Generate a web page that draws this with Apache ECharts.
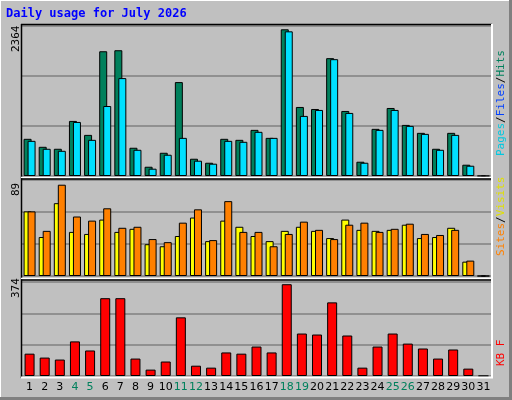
<!DOCTYPE html><html><head><meta charset="utf-8">
<script src="https://cdn.jsdelivr.net/npm/echarts@6/dist/echarts.min.js"></script>
<style>html,body{margin:0;padding:0;background:#c0c0c0}#c{width:512px;height:400px}</style></head><body><div id="c"></div>
<script>
const days = Array.from({length:31},(_,i)=>String(i+1));
const weekend = ['4','5','11','12','18','19','25','26'];
const hits  = [586,460,429,868,648,1966,1982,445,146,366,1480,272,209,586,570,727,601,2312,1088,1056,1857,1025,225,743,1072,805,680,429,680,178,0];
const pages = [554,429,397,852,570,1103,1543,413,115,335,601,241,194,554,539,696,601,2280,947,1041,1841,994,209,727,1041,790,664,413,648,162,0];
const sites = [63,38,71,43,41,55,43,46,31,29,39,57,34,54,48,39,34,44,48,44,37,55,45,44,45,50,37,38,47,14,0];
const visits= [63,44,89,58,54,66,47,48,36,33,52,65,35,73,43,43,29,41,53,45,36,50,52,43,46,51,41,40,45,15,0];
const kbytes= [91,75,67,141,104,317,317,71,26,59,239,42,34,96,91,120,96,374,173,169,300,165,34,120,173,132,112,71,108,30,0];
const maxLabels = ['2364','89','374'];

const chart = echarts.init(document.getElementById('c'),null,{renderer:'canvas'});
const L=22, R=21;
const grids=[{left:L,right:R,top:26,height:150},{left:L,right:R,top:180,height:96},{left:L,right:R,top:282,height:94}];
const maxes=[2364,93.6,383];
const xAxes=grids.map((g,i)=>({type:'category',gridIndex:i,data:days,axisLine:{show:false},axisTick:{show:false},
  axisLabel:{show:i===2,interval:0,margin:6,fontFamily:'DejaVu Sans',fontSize:11,
    formatter:v=>weekend.includes(v)?'{w|'+v+'}':v,color:'#000',rich:{w:{color:'#00805c',fontFamily:'DejaVu Sans',fontSize:11}}}}));
const yAxes=grids.map((g,i)=>({type:'value',gridIndex:i,min:0,max:maxes[i],interval:maxes[i]/3,axisLabel:{show:false},
  axisLine:{show:false},axisTick:{show:false},splitLine:{show:true,lineStyle:{color:'#808080',width:1.5}}}));
const bs={borderColor:'#000',borderWidth:1};
const series=[
 {type:'bar',xAxisIndex:0,yAxisIndex:0,data:hits,barWidth:8,barGap:'-50%',itemStyle:{color:'#00805c',...bs}},
 {type:'bar',xAxisIndex:0,yAxisIndex:0,data:pages,barWidth:8,itemStyle:{color:'#00e0ff',...bs}},
 {type:'bar',xAxisIndex:1,yAxisIndex:1,data:sites,barWidth:8,barGap:'-50%',itemStyle:{color:'#ffff00',...bs}},
 {type:'bar',xAxisIndex:1,yAxisIndex:1,data:visits,barWidth:8,itemStyle:{color:'#ff8000',...bs}},
 {type:'bar',xAxisIndex:2,yAxisIndex:2,data:kbytes,barWidth:10,itemStyle:{color:'#ff0000',...bs}}
];
const line=(x1,y1,x2,y2,c,w)=>({type:'line',shape:{x1,y1,x2,y2},style:{stroke:c,lineWidth:w||1},z:100});
const mono='DejaVu Sans Mono';
const graphic=[
 line(0,0.5,511,0.5,'#fff',1),line(0.5,0,0.5,399,'#fff',1),
 line(0,398.5,512,398.5,'#808080',3),line(510.5,0,510.5,400,'#808080',3),
 {type:'text',x:6,y:8,style:{text:'Daily usage for July 2026',fill:'#0000ff',font:'bold 12px '+mono},z:100},
 // panel frames
 line(21,24.5,492,24.5,'#000',1.5),line(21.5,24,21.5,378,'#000',1.5),
 line(21,177.5,492,177.5,'#fff',1.5),line(21,179,492,179,'#000',1.5),
 line(21,278.5,492,278.5,'#fff',1.5),line(21,280,492,280,'#000',1.5),
 line(21,377.5,493,377.5,'#fff',2),line(492,24,492,378,'#fff',2),
 {type:'text',x:11,y:52,rotation:Math.PI/2,style:{text:maxLabels[0],fill:'#000',font:'11px '+mono},z:100},
 {type:'text',x:11,y:196,rotation:Math.PI/2,style:{text:maxLabels[1],fill:'#000',font:'11px '+mono},z:100},
 {type:'text',x:11,y:298,rotation:Math.PI/2,style:{text:maxLabels[2],fill:'#000',font:'11px '+mono},z:100},
 {type:'text',x:496,y:156,rotation:Math.PI/2,style:{text:'{p|Pages}{s|/}{f|Files}{s|/}{h|Hits}',font:'11px '+mono,
   rich:{p:{fill:'#00c8e0',font:'11px '+mono},s:{fill:'#000',font:'11px '+mono},f:{fill:'#0040ff',font:'11px '+mono},h:{fill:'#00805c',font:'11px '+mono}}},z:100},
 {type:'text',x:496,y:256,rotation:Math.PI/2,style:{text:'{a|Sites}{s|/}{b|Visits}',font:'11px '+mono,
   rich:{a:{fill:'#ff8000',font:'11px '+mono},s:{fill:'#000',font:'11px '+mono},b:{fill:'#e0e000',font:'11px '+mono}}},z:100},
 {type:'text',x:496,y:366,rotation:Math.PI/2,style:{text:'KB F',fill:'#ff0000',font:'11px '+mono},z:100}
];
chart.setOption({animation:false,backgroundColor:'#c0c0c0',grid:grids,xAxis:xAxes,yAxis:yAxes,series,graphic});
</script></body></html>
